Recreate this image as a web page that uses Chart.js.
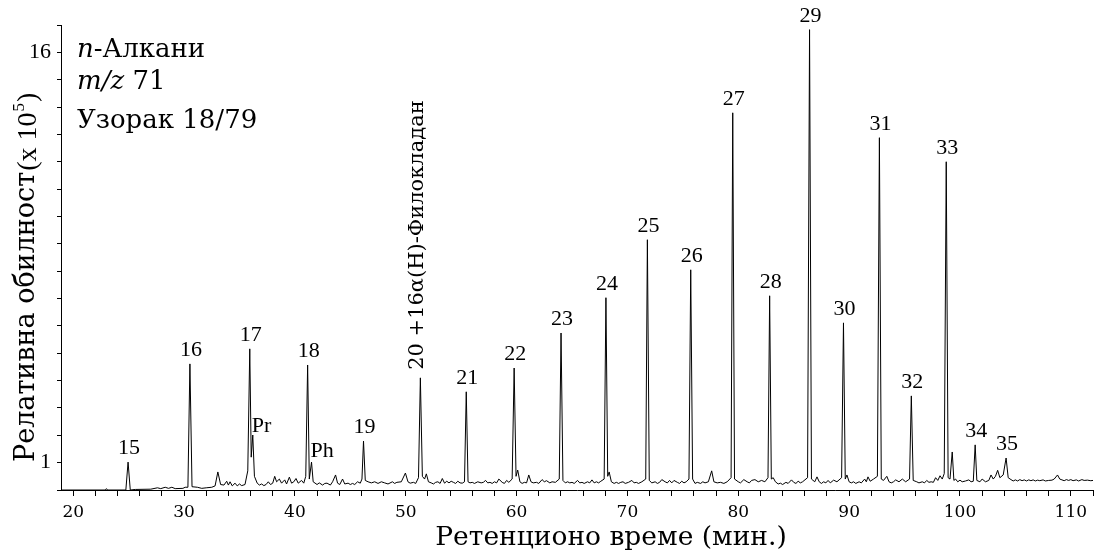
<!DOCTYPE html>
<html>
<head>
<meta charset="utf-8">
<script src="https://cdn.jsdelivr.net/npm/chart.js@4.4.1/dist/chart.umd.min.js"></script>
<style>
  body { margin: 0; background: #fff; }
  canvas { display: block; }
</style>
</head>
<body>
<canvas id="chromChart" width="1099" height="555"></canvas>
<script>
// m/z 71 trace: [retention time (min), abundance (x 10^5)]
const trace = [
    [18.9, 0.0], [22.9, 0.0], [23.0, 0.05], [23.1, 0.0], [24.75, 0.0], [24.95, 1.02], [25.15, 0.0],
    [25.6, 0.02], [27.0, 0.03], [27.6, 0.08], [27.9, 0.05], [28.3, 0.1], [28.6, 0.06], [28.9, 0.1],
    [29.2, 0.05], [29.9, 0.06], [30.1, 0.1], [30.35, 0.1], [30.53, 4.61], [30.72, 0.12], [31.2, 0.1],
    [31.6, 0.06], [32.0, 0.08], [32.5, 0.1], [32.8, 0.15], [33.05, 0.66], [33.3, 0.2], [33.6, 0.18],
    [33.85, 0.32], [34.0, 0.18], [34.15, 0.3], [34.35, 0.15], [34.6, 0.25], [34.8, 0.15], [35.0, 0.22],
    [35.2, 0.16], [35.5, 0.2], [35.75, 0.7], [35.93, 5.16], [36.06, 1.2], [36.2, 2.01], [36.35, 0.5],
    [36.6, 0.25], [36.8, 0.18], [37.0, 0.22], [37.2, 0.16], [37.4, 0.2], [37.6, 0.3], [37.8, 0.2],
    [38.0, 0.25], [38.18, 0.5], [38.35, 0.3], [38.6, 0.4], [38.8, 0.25], [39.08, 0.37], [39.25, 0.22],
    [39.5, 0.47], [39.7, 0.25], [39.9, 0.3], [40.1, 0.42], [40.3, 0.25], [40.6, 0.35], [40.8, 0.25],
    [40.98, 0.5], [41.15, 4.57], [41.3, 0.4], [41.5, 1.02], [41.65, 0.3], [42.0, 0.2], [42.2, 0.26],
    [42.5, 0.18], [42.7, 0.24], [42.9, 0.25], [43.2, 0.18], [43.4, 0.3], [43.67, 0.55], [43.85, 0.25],
    [44.05, 0.2], [44.3, 0.4], [44.5, 0.22], [44.8, 0.25], [45.0, 0.2], [45.2, 0.24], [45.4, 0.2],
    [45.65, 0.3], [45.9, 0.25], [46.05, 0.4], [46.19, 1.79], [46.35, 0.35], [46.6, 0.3], [46.9, 0.26],
    [47.2, 0.3], [47.5, 0.24], [47.8, 0.3], [48.1, 0.26], [48.4, 0.22], [48.8, 0.3], [49.0, 0.24],
    [49.2, 0.28], [49.6, 0.3], [49.97, 0.62], [50.2, 0.3], [50.4, 0.25], [50.7, 0.28], [50.9, 0.24],
    [51.15, 0.45], [51.32, 4.1], [51.5, 0.5], [51.7, 0.4], [51.86, 0.59], [52.05, 0.3], [52.3, 0.26],
    [52.5, 0.22], [52.7, 0.28], [52.9, 0.3], [53.1, 0.24], [53.3, 0.42], [53.5, 0.25], [53.7, 0.32],
    [53.9, 0.26], [54.1, 0.32], [54.3, 0.28], [54.5, 0.24], [54.7, 0.32], [54.9, 0.26], [55.1, 0.25],
    [55.3, 0.3], [55.46, 3.59], [55.62, 0.3], [55.8, 0.26], [56.0, 0.28], [56.2, 0.24], [56.5, 0.3],
    [56.8, 0.26], [57.0, 0.28], [57.2, 0.35], [57.4, 0.26], [57.6, 0.28], [57.8, 0.24], [58.0, 0.3],
    [58.2, 0.26], [58.4, 0.4], [58.7, 0.28], [58.9, 0.24], [59.1, 0.35], [59.3, 0.28], [59.6, 0.4],
    [59.78, 4.46], [59.95, 0.5], [60.1, 0.73], [60.3, 0.3], [60.5, 0.24], [60.7, 0.28], [60.9, 0.26],
    [61.1, 0.55], [61.3, 0.3], [61.5, 0.26], [61.8, 0.28], [62.0, 0.24], [62.3, 0.38], [62.5, 0.3],
    [62.7, 0.34], [63.0, 0.26], [63.2, 0.3], [63.5, 0.28], [63.85, 0.4], [64.01, 5.74], [64.18, 0.35],
    [64.4, 0.26], [64.6, 0.3], [64.8, 0.26], [65.0, 0.28], [65.2, 0.24], [65.5, 0.35], [65.7, 0.26],
    [65.9, 0.28], [66.1, 0.24], [66.4, 0.3], [66.6, 0.26], [66.8, 0.37], [67.0, 0.26], [67.2, 0.3],
    [67.4, 0.26], [67.6, 0.32], [67.9, 0.4], [68.06, 7.03], [68.22, 0.5], [68.35, 0.66], [68.55, 0.3],
    [68.8, 0.24], [69.0, 0.28], [69.2, 0.24], [69.4, 0.28], [69.6, 0.3], [69.8, 0.24], [70.1, 0.28],
    [70.4, 0.35], [70.6, 0.26], [70.8, 0.28], [71.0, 0.24], [71.3, 0.3], [71.65, 0.4], [71.8, 9.15],
    [71.97, 0.35], [72.2, 0.26], [72.5, 0.3], [72.7, 0.24], [72.9, 0.28], [73.1, 0.38], [73.4, 0.3],
    [73.6, 0.26], [73.8, 0.35], [74.0, 0.26], [74.2, 0.35], [74.5, 0.28], [74.7, 0.24], [74.9, 0.32],
    [75.1, 0.26], [75.3, 0.3], [75.55, 0.4], [75.71, 8.05], [75.88, 0.4], [76.1, 0.24], [76.3, 0.28],
    [76.6, 0.24], [76.8, 0.3], [77.0, 0.26], [77.3, 0.3], [77.6, 0.7], [77.8, 0.3], [78.1, 0.26],
    [78.4, 0.28], [78.7, 0.24], [79.0, 0.3], [79.35, 0.45], [79.5, 13.79], [79.66, 0.4], [80.0, 0.3],
    [80.2, 0.26], [80.5, 0.38], [80.8, 0.3], [81.0, 0.26], [81.2, 0.35], [81.5, 0.38], [81.8, 0.3],
    [82.1, 0.35], [82.4, 0.3], [82.68, 0.45], [82.83, 7.1], [82.98, 0.4], [83.15, 0.45], [83.35, 0.3],
    [83.6, 0.22], [83.8, 0.25], [84.0, 0.2], [84.3, 0.28], [84.5, 0.24], [84.8, 0.37], [85.0, 0.28],
    [85.2, 0.24], [85.4, 0.32], [85.6, 0.26], [85.8, 0.3], [86.25, 0.45], [86.43, 16.83], [86.6, 0.4],
    [86.9, 0.3], [87.1, 0.48], [87.3, 0.3], [87.5, 0.24], [87.7, 0.3], [87.9, 0.26], [88.1, 0.35],
    [88.3, 0.26], [88.6, 0.36], [88.9, 0.3], [89.32, 0.45], [89.49, 6.11], [89.65, 0.4], [89.8, 0.55],
    [90.0, 0.3], [90.2, 0.26], [90.4, 0.3], [90.6, 0.24], [90.9, 0.3], [91.1, 0.26], [91.4, 0.4],
    [91.55, 0.3], [91.7, 0.48], [91.9, 0.32], [92.2, 0.4], [92.55, 0.5], [92.73, 12.88], [92.9, 0.4],
    [93.1, 0.35], [93.4, 0.5], [93.6, 0.3], [93.8, 0.26], [94.0, 0.3], [94.2, 0.37], [94.5, 0.3],
    [94.8, 0.4], [95.1, 0.3], [95.45, 0.4], [95.61, 3.44], [95.78, 0.35], [96.1, 0.3], [96.3, 0.26],
    [96.6, 0.3], [96.8, 0.26], [97.0, 0.35], [97.2, 0.28], [97.4, 0.3], [97.6, 0.28], [97.8, 0.45],
    [98.0, 0.35], [98.2, 0.52], [98.4, 0.4], [98.58, 0.6], [98.76, 12.0], [98.93, 0.45], [99.1, 0.4],
    [99.3, 1.39], [99.45, 0.35], [99.6, 0.4], [99.8, 0.3], [100.0, 0.36], [100.2, 0.3], [100.5, 0.33],
    [100.8, 0.37], [101.0, 0.3], [101.2, 0.32], [101.37, 1.65], [101.52, 0.35], [101.8, 0.3], [102.0, 0.4],
    [102.3, 0.3], [102.6, 0.35], [102.8, 0.55], [103.0, 0.4], [103.2, 0.5], [103.4, 0.72], [103.6, 0.45],
    [103.9, 0.55], [104.16, 1.17], [104.35, 0.45], [104.6, 0.38], [104.8, 0.33], [105.0, 0.37],
    [105.2, 0.33], [105.4, 0.38], [105.6, 0.34], [105.8, 0.37], [106.0, 0.33], [106.2, 0.37],
    [106.4, 0.34], [106.6, 0.37], [106.8, 0.33], [107.0, 0.36], [107.2, 0.34], [107.5, 0.37],
    [107.7, 0.33], [108.0, 0.35], [108.3, 0.36], [108.5, 0.4], [108.8, 0.55], [109.0, 0.4],
    [109.2, 0.37], [109.4, 0.34], [109.6, 0.38], [109.8, 0.35], [110.0, 0.38], [110.2, 0.34],
    [110.5, 0.37], [110.7, 0.33], [111.0, 0.38], [111.2, 0.35], [111.5, 0.36], [111.8, 0.34],
    [112.0, 0.35]
];

// peak names and the retention time of the peak they sit on
const peakLabels = ['15', '16', '17', 'Pr', '18', 'Ph', '19', '20 +16α(H)-Филокладан', '21', '22', '23',
    '24', '25', '26', '27', '28', '29', '30', '31', '32', '33', '34', '35'];
const peakTimes = [24.95, 30.53, 35.93, 36.2, 41.15, 41.5, 46.19, 51.32, 55.46, 59.78, 64.01,
    68.06, 71.8, 75.71, 79.5, 82.83, 86.43, 89.49, 92.73, 95.61, 98.76, 101.37, 104.16];

const xTickLabels = [20, 30, 40, 50, 60, 70, 80, 90, 100, 110];
const yTickLabels = [1, 16];

const titleLines = ['n-Алкани', 'm/z 71', 'Узорак 18/79'];
const xTitle = 'Ретенционо време (мин.)';
const yTitle = 'Релативна обилност';

const MAIN_FONT = '"DejaVu Serif", serif';
const TIMES_FONT = '"Liberation Serif", "Times New Roman", serif';

function apexValue(t) {
    let best = 0;
    trace.forEach(p => {
        if (Math.abs(p[0] - t) < 0.05 && p[1] > best) best = p[1];
    });
    return best;
}

const annotations = {
    id: 'annotations',
    afterDraw(chart) {
        const ctx = chart.ctx;
        const xs = chart.scales.x;
        const ys = chart.scales.y;
        ctx.save();
        ctx.fillStyle = '#000';

        // peak labels
        peakLabels.forEach((text, i) => {
            const px = xs.getPixelForValue(peakTimes[i]);
            const py = ys.getPixelForValue(apexValue(peakTimes[i]));
            if (text.length > 4) {
                ctx.save();
                ctx.font = '21px ' + MAIN_FONT;
                ctx.translate(px + 3, py - 8);
                ctx.rotate(-Math.PI / 2);
                ctx.textAlign = 'left';
                ctx.textBaseline = 'alphabetic';
                ctx.fillText(text, 0, 0);
                ctx.restore();
                return;
            }
            ctx.font = '22px ' + TIMES_FONT;
            ctx.textBaseline = 'alphabetic';
            if (text === 'Pr' || text === 'Ph') {
                ctx.textAlign = 'left';
                ctx.fillText(text, px - 1, py - (text === 'Pr' ? 3 : 5));
            } else {
                ctx.textAlign = 'center';
                ctx.fillText(text, px + 1, py - 8);
            }
        });

        // sample block, top left
        ctx.textAlign = 'left';
        ctx.textBaseline = 'alphabetic';
        const x0 = 77;
        ctx.font = 'italic 26px ' + MAIN_FONT;
        ctx.fillText('n', x0, 57);
        let w = ctx.measureText('n').width;
        ctx.font = '26px ' + MAIN_FONT;
        ctx.fillText(titleLines[0].slice(1), x0 + w, 57);

        ctx.font = 'italic 26px ' + MAIN_FONT;
        ctx.fillText('m/z', x0, 89);
        w = ctx.measureText('m/z').width;
        ctx.font = '26px ' + MAIN_FONT;
        ctx.fillText(titleLines[1].slice(3), x0 + w, 89);

        ctx.fillText(titleLines[2], x0, 128);

        // x axis title
        ctx.textAlign = 'center';
        ctx.font = '26.5px ' + MAIN_FONT;
        ctx.fillText(xTitle, 611, 545);

        // y axis title, with the (x 10^5) unit
        ctx.save();
        ctx.translate(34, 462);
        ctx.rotate(-Math.PI / 2);
        ctx.textAlign = 'left';
        ctx.font = '27px ' + MAIN_FONT;
        ctx.fillText(yTitle, 0, 0);
        let off = ctx.measureText(yTitle).width + 1;
        ctx.font = '28px ' + TIMES_FONT;
        ctx.fillText('(x 10', off, 2);
        off += ctx.measureText('(x 10').width;
        ctx.font = '17px ' + TIMES_FONT;
        ctx.fillText('5', off + 1, -10);
        off += ctx.measureText('5').width + 2;
        ctx.font = '28px ' + TIMES_FONT;
        ctx.fillText(')', off, 2);
        ctx.restore();

        ctx.restore();
    }
};

const ctx = document.getElementById('chromChart').getContext('2d');
new Chart(ctx, {
    type: 'line',
    data: {
        datasets: [{
            data: trace.map(p => ({ x: p[0], y: p[1] })),
            borderColor: '#000',
            borderWidth: 1,
            pointRadius: 0,
            tension: 0,
            fill: false
        }]
    },
    options: {
        responsive: false,
        animation: false,
        devicePixelRatio: 1,
        parsing: false,
        layout: { padding: { left: 0, right: 4, top: 25, bottom: 0 } },
        plugins: {
            legend: { display: false },
            tooltip: { enabled: false }
        },
        scales: {
            x: {
                type: 'linear',
                min: 18.9,
                max: 112,
                border: { display: true, color: '#000', width: 1 },
                grid: { drawOnChartArea: false, drawTicks: true, tickLength: 6, color: '#000' },
                ticks: {
                    autoSkip: false,
                    maxRotation: 0,
                    padding: 6,
                    color: '#000',
                    font: { family: MAIN_FONT, size: 17 },
                    callback: v => xTickLabels.includes(v) ? String(v) : ''
                },
                // minor ticks every 2 min, labels only on the tens
                afterBuildTicks: scale => {
                    const ticks = [];
                    for (let v = 20; v <= 112; v += 2) ticks.push({ value: v });
                    scale.ticks = ticks;
                },
                afterFit: scale => { scale.height = 65; }
            },
            y: {
                min: 0,
                max: 17,
                border: { display: true, color: '#000', width: 1 },
                grid: { drawOnChartArea: false, drawTicks: true, tickLength: 4, color: '#000' },
                ticks: {
                    stepSize: 1,
                    autoSkip: false,
                    padding: 6,
                    color: '#000',
                    font: { family: TIMES_FONT, size: 22 },
                    callback: v => yTickLabels.includes(v) ? String(v) : ''
                },
                afterFit: scale => { scale.width = 61; }
            }
        }
    },
    plugins: [annotations]
});
</script>
</body>
</html>
